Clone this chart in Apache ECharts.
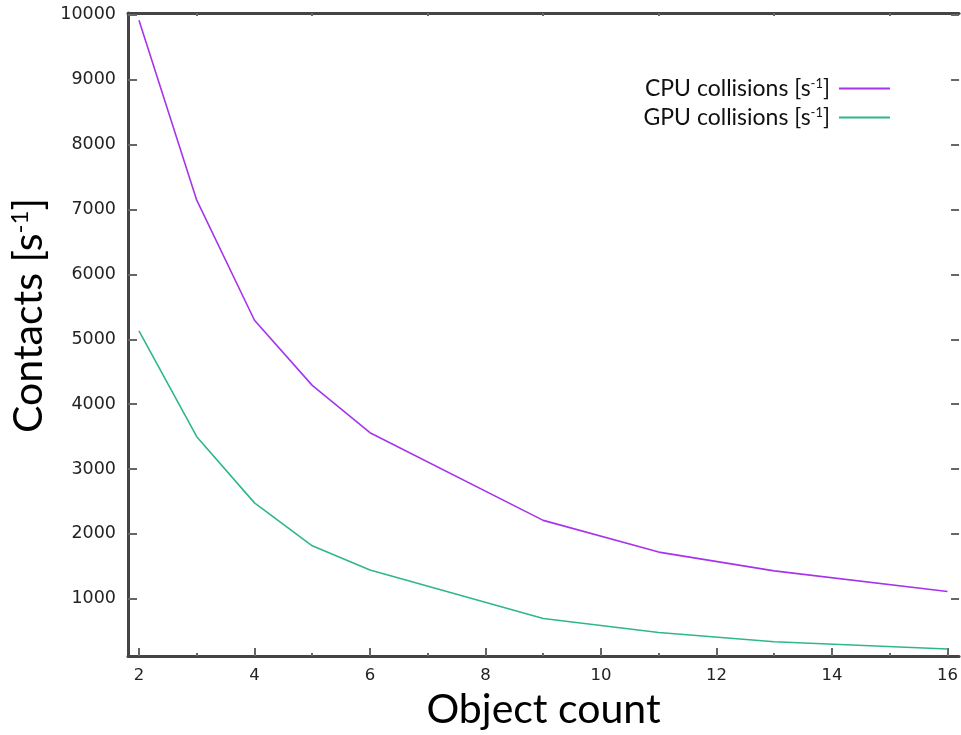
<!DOCTYPE html>
<html>
<head>
<meta charset="utf-8">
<script src="https://cdn.jsdelivr.net/npm/echarts@6/dist/echarts.min.js"></script>
<style>html,body{margin:0;padding:0;background:#fff;overflow:hidden;}#c{width:961px;height:735px;}</style>
</head>
<body>
<div id="c"></div>
<script>
const objectCounts = [2, 3, 4, 5, 6, 9, 11, 13, 16];
const cpuCollisions = [9920, 7144, 5293, 4289, 3559, 2208, 1719, 1429, 1112];
const gpuCollisions = [5130, 3498, 2478, 1815, 1444, 694, 480, 336, 224];
const xMajorTicks = [2, 4, 6, 8, 10, 12, 14, 16];
const xMinorTicks = [3, 5, 7, 9, 11, 13, 15];
const yTicks = [1000, 2000, 3000, 4000, 5000, 6000, 7000, 8000, 9000, 10000];

const X_MIN = 1.81, X_MAX = 16.2, Y_MIN = 117, Y_MAX = 10030;
const axisColor = '#444444';
const cpuColor = '#a634ec';
const gpuColor = '#2fb78c';

const chart = echarts.init(document.getElementById('c'), null, {renderer: 'canvas'});
const supRich = {
  n: {fontFamily: 'Lato', fontSize: 23, color: '#111'},
  sup: {fontFamily: 'Lato', fontSize: 13, color: '#111', verticalAlign: 'top', padding: [0, 0, 10, 0]}
};
chart.setOption({
  animation: false,
  backgroundColor: '#ffffff',
  grid: {left: 128, right: 0, top: 13, bottom: 74, containLabel: false},
  legend: {
    orient: 'vertical', right: 66, top: 72, align: 'right', itemGap: 6,
    itemWidth: 51, itemHeight: 2, icon: 'rect',
    formatter: function (name) { return name === 'CPU' ? '{n|CPU collisions [s}{sup|-1}{n|]}' : '{n|GPU collisions [s}{sup|-1}{n|]}'; },
    textStyle: {rich: supRich, padding: [0, 4, 0, 0]},
    data: ['CPU', 'GPU']
  },
  xAxis: [
    {
      type: 'value', position: 'bottom', min: X_MIN, max: X_MAX,
      axisLine: {show: true, lineStyle: {color: axisColor, width: 3}},
      axisTick: {show: true, inside: true, length: 8, customValues: xMajorTicks, lineStyle: {color: '#666', width: 2}},
      axisLabel: {show: true, customValues: xMajorTicks, fontFamily: 'DejaVu Sans', fontSize: 16.5, color: '#222', margin: 11},
      splitLine: {show: false},
      name: 'Object count', nameLocation: 'middle', nameGap: 33,
      nameTextStyle: {fontFamily: 'Lato', fontSize: 41, color: '#000'}
    },
    {
      type: 'value', position: 'bottom', min: X_MIN, max: X_MAX,
      axisLine: {show: false},
      axisTick: {show: true, inside: true, length: 3, customValues: xMinorTicks, lineStyle: {color: '#666', width: 2}},
      axisLabel: {show: false}, splitLine: {show: false}
    },
    {
      type: 'value', position: 'top', min: X_MIN, max: X_MAX,
      axisLine: {show: true, lineStyle: {color: axisColor, width: 3}},
      axisTick: {show: true, inside: true, length: 3, customValues: xMinorTicks, lineStyle: {color: '#666', width: 2}},
      axisLabel: {show: false}, splitLine: {show: false}
    }
  ],
  yAxis: [
    {
      type: 'value', position: 'left', min: Y_MIN, max: Y_MAX,
      axisLine: {show: true, lineStyle: {color: axisColor, width: 3}},
      axisTick: {show: true, inside: true, length: 9, customValues: yTicks, lineStyle: {color: '#666', width: 2}},
      axisLabel: {show: true, customValues: yTicks, formatter: function (v) { return String(Math.round(v)); }, fontFamily: 'DejaVu Sans', fontSize: 17.5, color: '#222', margin: 12},
      splitLine: {show: false},
      name: '{n|Contacts [s}{sup|-1}{n|]}', nameLocation: 'middle', nameGap: 72,
      nameTextStyle: {
        padding: [0, 0, 0, 38],
        rich: {
          n: {fontFamily: 'Lato', fontSize: 41, color: '#000'},
          sup: {fontFamily: 'Lato', fontSize: 24, color: '#000', verticalAlign: 'top', padding: [0, 0, 17, 0]}
        }
      }
    },
    {
      type: 'value', position: 'right', min: Y_MIN, max: Y_MAX,
      axisLine: {show: false},
      axisTick: {show: true, inside: true, length: 8, customValues: yTicks, lineStyle: {color: '#666', width: 2}},
      axisLabel: {show: false}, splitLine: {show: false}
    }
  ],
  series: [
    {
      name: 'CPU', type: 'line', xAxisIndex: 0, yAxisIndex: 0,
      data: objectCounts.map((x, i) => [x, cpuCollisions[i]]),
      showSymbol: false, symbol: 'none', lineStyle: {color: cpuColor, width: 1.6}, itemStyle: {color: cpuColor}
    },
    {
      name: 'GPU', type: 'line', xAxisIndex: 0, yAxisIndex: 0,
      data: objectCounts.map((x, i) => [x, gpuCollisions[i]]),
      showSymbol: false, symbol: 'none', lineStyle: {color: gpuColor, width: 1.6}, itemStyle: {color: gpuColor}
    }
  ]
});
</script>
</body>
</html>
